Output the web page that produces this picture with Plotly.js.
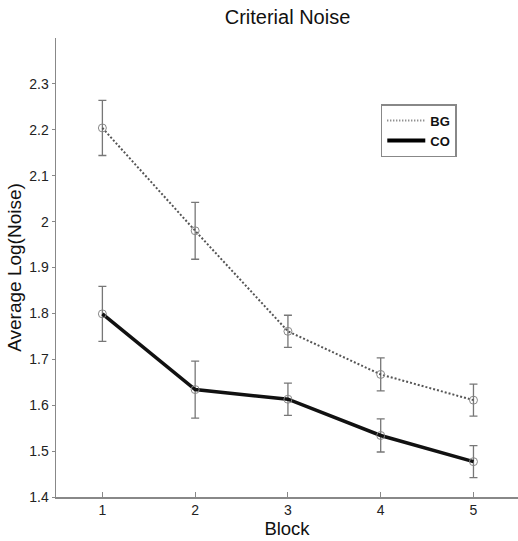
<!DOCTYPE html>
<html>
<head>
<meta charset="utf-8">
<script src="https://cdn.plot.ly/plotly-3.0.1.min.js"></script>
<style>html,body{margin:0;padding:0;background:#fff;}#chart{width:518px;height:541px;}</style>
</head>
<body>
<div id="chart"></div>
<script>
const blocks = [1, 2, 3, 4, 5];
const bgMean = [2.204, 1.980, 1.761, 1.667, 1.611];
const bgErr  = [0.060, 0.062, 0.035, 0.036, 0.035];
const coMean = [1.799, 1.634, 1.613, 1.534, 1.477];
const coErr  = [0.060, 0.062, 0.035, 0.036, 0.035];
const yTicks = [1.4, 1.5, 1.6, 1.7, 1.8, 1.9, 2, 2.1, 2.2, 2.3];
const yTickText = ['1.4','1.5','1.6','1.7','1.8','1.9','2','2.1','2.2','2.3'];

const errStyle = (arr) => ({type:'data', array:arr, visible:true, color:'#777', thickness:1.3, width:4});
const markerStyle = {symbol:'circle-open', size:8, color:'#888', line:{width:1, color:'#888'}};
const bgLine = {color:'#555', width:2, dash:'2px,2px'};
const coLine = {color:'#111', width:3.5};

const traces = [
  {x:blocks, y:bgMean, name:'BG', mode:'lines+markers', error_y:errStyle(bgErr),
   line:bgLine, marker:markerStyle, showlegend:false},
  {x:blocks, y:coMean, name:'CO', mode:'lines+markers', error_y:errStyle(coErr),
   line:coLine, marker:markerStyle, showlegend:false},
  {x:[null], y:[null], name:'BG', mode:'lines', line:{color:'#666', width:2, dash:'1px,2px'}},
  {x:[null], y:[null], name:'CO', mode:'lines', line:{color:'#000', width:4}}
];

const layout = {
  width:518, height:541,
  margin:{l:56, r:0, t:38, b:44},
  paper_bgcolor:'#fff', plot_bgcolor:'#fff',
  font:{family:'Liberation Sans, Arial, sans-serif', color:'#222'},
  title:{text:'Criterial Noise', x:0.555, xanchor:'center', y:0.968, yanchor:'middle', font:{size:20, color:'#111'}},
  xaxis:{range:[0.5, 5.48], tickvals:blocks, ticktext:blocks.map(String),
    showline:true, linecolor:'#888', linewidth:1.5, showgrid:false, zeroline:false,
    ticks:'inside', ticklen:5, tickcolor:'#888', tickfont:{size:14, color:'#222'},
    title:{text:'Block', font:{size:18.5, color:'#111'}, standoff:0}},
  yaxis:{range:[1.4, 2.4], tickvals:yTicks, ticktext:yTickText,
    showline:true, linecolor:'#888', linewidth:1.5, showgrid:false, zeroline:false,
    ticks:'outside', ticklen:3, tickcolor:'#888', tickfont:{size:14, color:'#222'},
    title:{text:'Average Log(Noise)', font:{size:19, color:'#111'}, standoff:2}},
  showlegend:true,
  legend:{x:0.703, y:0.856, xanchor:'left', yanchor:'top', bordercolor:'#888', borderwidth:1.5,
    bgcolor:'#fff', font:{family:'Liberation Sans Narrow, Liberation Sans, Arial', size:13, color:'#111', weight:'bold'},
    itemwidth:38, tracegroupgap:0}
};

Plotly.newPlot('chart', traces, layout, {displayModeBar:false, staticPlot:true});
</script>
</body>
</html>
